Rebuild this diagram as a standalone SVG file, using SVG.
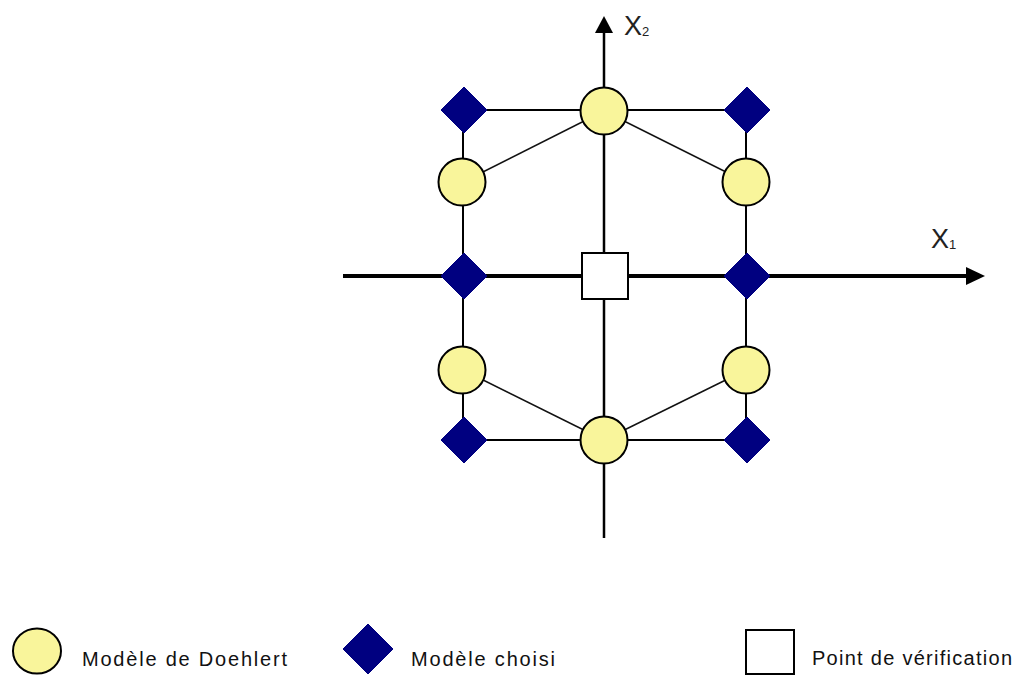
<svg xmlns="http://www.w3.org/2000/svg" width="1017" height="675" viewBox="0 0 1017 675">
<style>
.ln{stroke:#000;stroke-width:2;fill:none}
.dg{stroke:#111;stroke-width:1.5;fill:none}
.ax{stroke:#000;fill:none}
.c{fill:#F9F59B;stroke:#000;stroke-width:2}
.d{fill:#000080;stroke:#000080;stroke-width:1}
.s{fill:#fff;stroke:#000;stroke-width:2}
.t{font-family:"Liberation Sans",Arial,sans-serif;font-size:20px;fill:#111}
.ax-t{font-family:"Liberation Sans",Arial,sans-serif;fill:#222}
</style>
<rect width="1017" height="675" fill="#fff"/>
<g id="connectors">
  <line class="ax" x1="343" y1="276" x2="968" y2="276" stroke-width="4"/>
  <polygon points="985,276 966,267 966,285" fill="#000"/>
  <line class="ax" x1="604" y1="32" x2="604" y2="538" stroke-width="2.5"/>
  <polygon points="604,16 595,33 613,33" fill="#000"/>
  <line class="ln" x1="463" y1="110" x2="746" y2="110"/>
  <line class="ln" x1="463" y1="440" x2="746" y2="440"/>
  <line class="ln" x1="463" y1="110" x2="463" y2="440"/>
  <line class="ln" x1="746" y1="110" x2="746" y2="440"/>
  <line class="dg" x1="604" y1="111" x2="463" y2="182"/>
  <line class="dg" x1="604" y1="111" x2="746" y2="182"/>
  <line class="dg" x1="604" y1="440" x2="463" y2="370"/>
  <line class="dg" x1="604" y1="440" x2="746" y2="370"/>
</g>
<g id="axis-x2"><text class="ax-t" x="624" y="35" font-size="27">X<tspan font-size="13" dy="1">2</tspan></text></g>
<g id="axis-x1"><text class="ax-t" x="931" y="248" font-size="27">X<tspan font-size="13" dy="1">1</tspan></text></g>
<g id="d-tl"><polygon class="d" points="464,87 487,110 464,133 441,110"/></g>
<g id="d-tr"><polygon class="d" points="747,87 770,110 747,133 724,110"/></g>
<g id="d-ml"><polygon class="d" points="464,253 487,276 464,299 441,276"/></g>
<g id="d-mr"><polygon class="d" points="747,253 770,276 747,299 724,276"/></g>
<g id="d-bl"><polygon class="d" points="464,417 487,440 464,463 441,440"/></g>
<g id="d-br"><polygon class="d" points="747,417 770,440 747,463 724,440"/></g>
<g id="c-top"><circle class="c" cx="604" cy="111" r="23.5"/></g>
<g id="c-bot"><circle class="c" cx="604" cy="440" r="23.5"/></g>
<g id="c-ul"><circle class="c" cx="462" cy="182" r="23.5"/></g>
<g id="c-ur"><circle class="c" cx="746" cy="182" r="23.5"/></g>
<g id="c-ll"><circle class="c" cx="462" cy="370" r="23.5"/></g>
<g id="c-lr"><circle class="c" cx="746" cy="370" r="23.5"/></g>
<g id="center-square"><rect class="s" x="582" y="253" width="46" height="46"/></g>
<g id="legend-doehlert">
  <ellipse class="c" cx="37" cy="651" rx="24" ry="22.5"/>
  <text class="t" x="82" y="666" textLength="205" lengthAdjust="spacing">Modèle de Doehlert</text>
</g>
<g id="legend-choisi">
  <polygon class="d" points="368,624 393,649 368,674 343,649"/>
  <text class="t" x="411" y="666" textLength="144" lengthAdjust="spacing">Modèle choisi</text>
</g>
<g id="legend-verif">
  <rect class="s" x="746" y="630" width="48" height="44"/>
  <text class="t" x="812" y="665" textLength="200" lengthAdjust="spacing">Point de vérification</text>
</g>
</svg>
